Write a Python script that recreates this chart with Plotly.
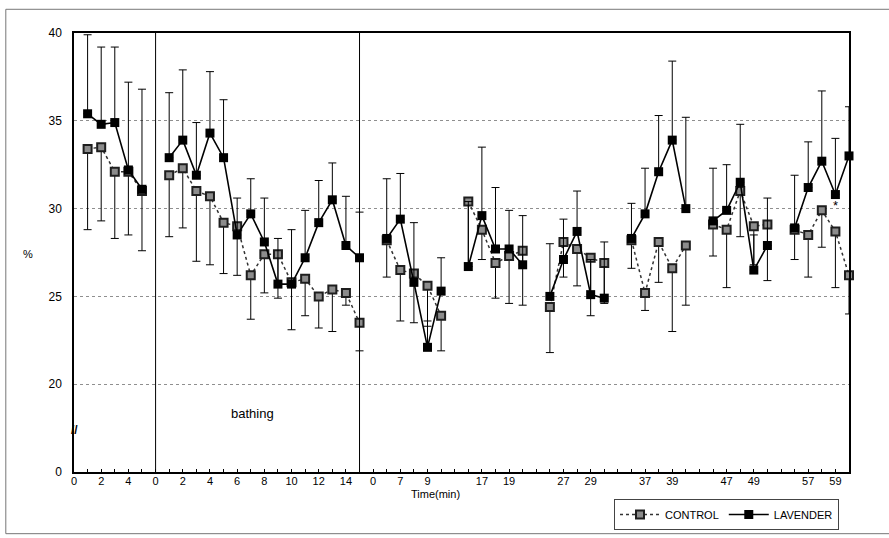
import plotly.graph_objects as go

# ---------------- data ----------------
# category positions 0..57 (Excel-style category axis); None = empty category
x_labels = ["0", "", "2", "", "4", "",
            "0", "", "2", "", "4", "", "6", "", "8", "", "10", "", "12", "", "14", "",
            "0", "", "7", "", "9", "",
            "", "", "17", "", "19", "",
            "", "", "27", "", "29", "",
            "", "", "37", "", "39", "",
            "", "", "47", "", "49", "",
            "", "", "57", "", "59", ""]

lavender = [None, 35.4, 34.8, 34.9, 32.2, 31.1,
            None, 32.9, 33.9, 31.9, 34.3, 32.9, 28.5, 29.7, 28.1, 25.7, 25.7, 27.2, 29.2, 30.5, 27.9, 27.2,
            None, 28.3, 29.4, 25.8, 22.1, 25.3,
            None, 26.7, 29.6, 27.7, 27.7, 26.8,
            None, 25.0, 27.1, 28.7, 25.1, 24.9,
            None, 28.3, 29.7, 32.1, 33.9, 30.0,
            None, 29.3, 29.9, 31.5, 26.5, 27.9,
            None, 28.9, 31.2, 32.7, 30.8, 33.0]

lavender_sd = [0, 4.5, 4.4, 4.3, 5.0, 5.7,
               0, 3.7, 4.0, 3.0, 3.5, 3.3, 2.1, 2.0, 2.5, 2.6, 3.1, 2.7, 2.4, 2.1, 2.8, 2.6,
               0, 3.4, 2.6, 3.4, 1.5, 1.9,
               0, 3.7, 3.9, 3.5, 2.2, 2.8,
               0, 3.0, 2.3, 2.3, 2.0, 3.2,
               0, 2.0, 2.6, 3.2, 4.5, 5.2,
               0, 3.0, 2.6, 3.3, 2.0, 2.7,
               0, 3.0, 2.6, 4.0, 3.2, 2.8]

control = [None, 33.4, 33.5, 32.1, 32.1, 31.0,
           None, 31.9, 32.3, 31.0, 30.7, 29.2, 29.0, 26.2, 27.4, 27.4, 25.8, 26.0, 25.0, 25.4, 25.2, 23.5,
           None, 28.2, 26.5, 26.3, 25.6, 23.9,
           None, 30.4, 28.8, 26.9, 27.3, 27.6,
           None, 24.4, 28.1, 27.7, 27.2, 26.9,
           None, 28.2, 25.2, 28.1, 26.6, 27.9,
           None, 29.1, 28.8, 31.0, 29.0, 29.1,
           None, 28.8, 28.5, 29.9, 28.7, 26.2]

control_sd = [0, 4.6, 4.2, 3.8, 3.6, 3.4,
              0, 3.5, 3.4, 4.0, 3.9, 2.9, 2.8, 2.5, 2.2, 2.5, 2.7, 2.1, 1.8, 2.4, 0.7, 1.6,
              0, 2.1, 2.9, 2.8, 2.3, 2.0,
              0, 3.7, 1.7, 2.0, 2.7, 3.1,
              0, 2.6, 2.0, 2.1, 3.3, 2.3,
              0, 1.6, 1.0, 2.3, 3.6, 3.4,
              0, 1.8, 3.3, 2.6, 2.2, 3.2,
              0, 1.7, 2.4, 2.1, 3.2, 2.2]

section_bounds = [6, 21]          # vertical separators (start / end of bathing)
y_tick_vals = [15, 20, 25, 30, 35, 40]   # 15 drawn as the broken-axis "0"
y_tick_text = ["0", "20", "25", "30", "35", "40"]
star_point = (56, 30.15)
bathing_label = (13.1, 18.35)
break_mark_y = 17.4

n = len(x_labels)
xs = list(range(n))
zeros = [0] * n
FONT = "Liberation Sans, Arial, sans-serif"

fig = go.Figure()
fig.add_trace(go.Scatter(
    x=xs, y=control, name="CONTROL", mode="lines+markers",
    line=dict(color="#333333", width=1.5, dash="dot"),
    marker=dict(symbol="square", size=8, color="#8c8c8c",
                line=dict(color="#1e1e1e", width=2)),
    error_y=dict(type="data", symmetric=False, array=zeros, arrayminus=control_sd,
                 color="black", thickness=1, width=4),
    connectgaps=False, cliponaxis=False))
fig.add_trace(go.Scatter(
    x=xs, y=lavender, name="LAVENDER", mode="lines+markers",
    line=dict(color="black", width=1.6),
    marker=dict(symbol="square", size=9, color="black"),
    error_y=dict(type="data", symmetric=False, array=lavender_sd, arrayminus=zeros,
                 color="black", thickness=1, width=4),
    connectgaps=False, cliponaxis=False))

for b in section_bounds:
    fig.add_shape(type="line", xref="x", yref="paper", x0=b, x1=b, y0=0, y1=1,
                  line=dict(color="black", width=1))

# outer frame of the figure (right side runs off the picture)
fig.add_shape(type="rect", xref="paper", yref="paper",
              x0=-0.088, x1=1.06, y0=-0.1405, y1=1.054,
              line=dict(color="#777777", width=1))

fig.add_annotation(x=star_point[0], y=star_point[1], text="*", showarrow=False,
                   font=dict(size=13, color="black", family=FONT))
fig.add_annotation(x=bathing_label[0], y=bathing_label[1], text="bathing", showarrow=False,
                   font=dict(size=13, color="black", family=FONT))
fig.add_annotation(xref="paper", x=0, y=break_mark_y, text="<b>//</b>", showarrow=False,
                   xanchor="center", yanchor="middle",
                   font=dict(size=12, color="black", family=FONT))
fig.add_annotation(xref="paper", yref="paper", x=-0.059, y=0.497, text="%", showarrow=False,
                   xanchor="center", yanchor="middle",
                   font=dict(size=11, color="black", family=FONT))
fig.add_annotation(xref="paper", yref="paper", x=0.467, y=-0.05, text="Time(min)",
                   showarrow=False, xanchor="center", yanchor="middle",
                   font=dict(size=11, color="black", family=FONT))

fig.update_xaxes(range=[0, n - 1], tickmode="array", tickvals=xs, ticktext=x_labels,
                 ticks="inside", ticklen=3, tickcolor="black", ticklabelstandoff=-2,
                 showline=True, linecolor="black", linewidth=1.5, mirror=True,
                 showgrid=False, zeroline=False,
                 tickfont=dict(size=11, color="black", family=FONT))
fig.update_yaxes(range=[15, 40], tickmode="array", tickvals=y_tick_vals, ticktext=y_tick_text,
                 ticks="", ticklabelstandoff=8,
                 showline=True, linecolor="black", linewidth=1.5, mirror=True,
                 showgrid=True, gridcolor="#8f8f8f", griddash="dot", gridwidth=1,
                 zeroline=False,
                 tickfont=dict(size=12, color="black", family=FONT))

fig.update_layout(
    width=889, height=538,
    margin=dict(l=74, r=40, t=33, b=66, autoexpand=False),
    paper_bgcolor="white", plot_bgcolor="white",
    font=dict(family=FONT, color="black"),
    showlegend=True,
    legend=dict(orientation="h", xref="container", yref="container",
                x=839 / 889, xanchor="right", y=1 - 499 / 538, yanchor="top",
                bordercolor="#444444", borderwidth=1, bgcolor="white",
                font=dict(size=11, color="black", family=FONT),
                itemwidth=40, tracegroupgap=0),
)

fig.write_html("out.html", config={"displayModeBar": False},
               post_script="document.body.style.margin='0';")
